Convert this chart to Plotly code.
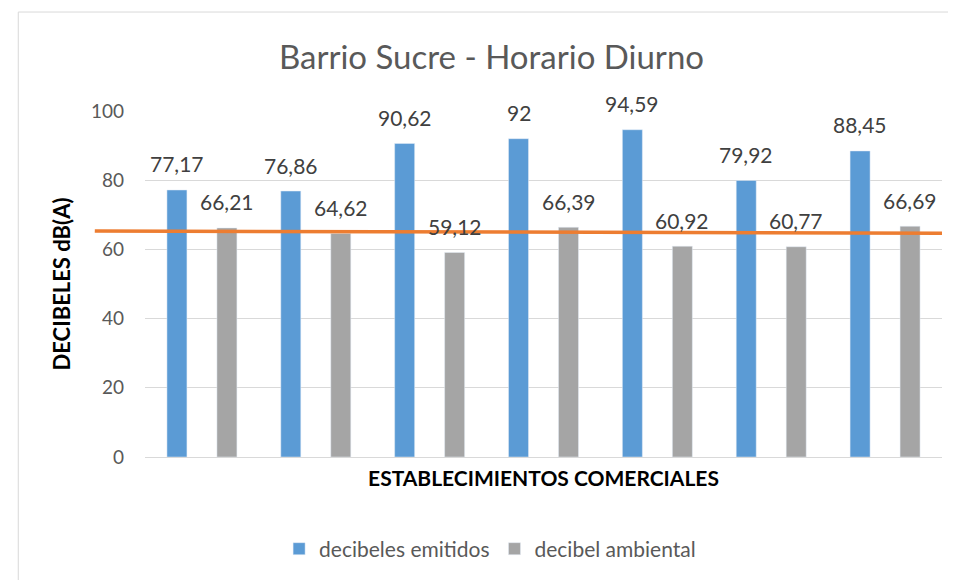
import plotly.graph_objects as go

# data
establecimientos = ["Est. 1", "Est. 2", "Est. 3", "Est. 4", "Est. 5", "Est. 6", "Est. 7"]
emitidos = [77.17, 76.86, 90.62, 92, 94.59, 79.92, 88.45]
ambiental = [66.21, 64.62, 59.12, 66.39, 60.92, 60.77, 66.69]
limite = [65.3, 64.7]  # orange reference line, left and right ends


def _fmt(v):
    s = f"{v:.2f}".rstrip("0").rstrip(".")
    return s.replace(".", ",")


FONT = "Lato"
BLUE = "#5b9bd5"
GRAY = "#a5a5a5"

fig = go.Figure()
fig.add_trace(go.Bar(x=establecimientos, y=emitidos, name="decibeles emitidos",
                     marker_color=BLUE))
fig.add_trace(go.Bar(x=establecimientos, y=ambiental, name="decibel ambiental",
                     marker_color=GRAY))

# data labels, sitting above each bar like Excel's "outside end"
for series, shift in [(emitidos, -25), (ambiental, 25)]:
    for cat, v in zip(establecimientos, series):
        fig.add_annotation(x=cat, y=v, xref="x", yref="y", text=_fmt(v),
                           showarrow=False, xshift=shift, yshift=26,
                           yanchor="middle",
                           font=dict(size=21, color="#404040", family=FONT))

# orange line, runs a bit past the left edge of the plot area
fig.add_shape(type="line", xref="paper", yref="y",
              x0=-0.063, x1=1.0, y0=limite[0], y1=limite[1],
              line=dict(color="#ed7d31", width=3.5))
# chart frame
fig.add_shape(type="rect", xref="paper", yref="paper",
              x0=-0.159, x1=1.05, y0=-0.45, y1=1.286,
              line=dict(color="#d9d9d9", width=1), layer="below")

fig.update_layout(
    width=948, height=572,
    margin=dict(l=137, r=14, t=103, b=123, autoexpand=False),
    paper_bgcolor="white", plot_bgcolor="white",
    barmode="group", bargap=0.122, bargroupgap=0.6,
    title=dict(text="Barrio Sucre - Horario Diurno", x=0.51, xanchor="center",
               y=0.913, yanchor="middle",
               font=dict(size=33, color="#595959", family=FONT)),
    font=dict(family=FONT, color="#595959"),
    legend=dict(orientation="h", x=0.433, xanchor="center",
                y=-0.266, yanchor="middle",
                font=dict(size=21, color="#595959", family=FONT),
                itemwidth=30, traceorder="normal"),
    showlegend=True,
)
fig.update_yaxes(range=[0, 100], dtick=20, showgrid=True, gridcolor="#d9d9d9",
                 gridwidth=1, zeroline=False, showline=False,
                 tickfont=dict(size=19, color="#595959"), ticklabelstandoff=20,
                 title=dict(text="<b>DECIBELES dB(A)</b>", standoff=14,
                            font=dict(size=22, color="black", family=FONT)))
fig.update_xaxes(showticklabels=False, showline=True, linecolor="#d9d9d9", linewidth=1,
                 title=dict(text="<b>ESTABLECIMIENTOS COMERCIALES</b>", standoff=14,
                            font=dict(size=21, color="black", family=FONT)))

fig.write_html("out.html")
